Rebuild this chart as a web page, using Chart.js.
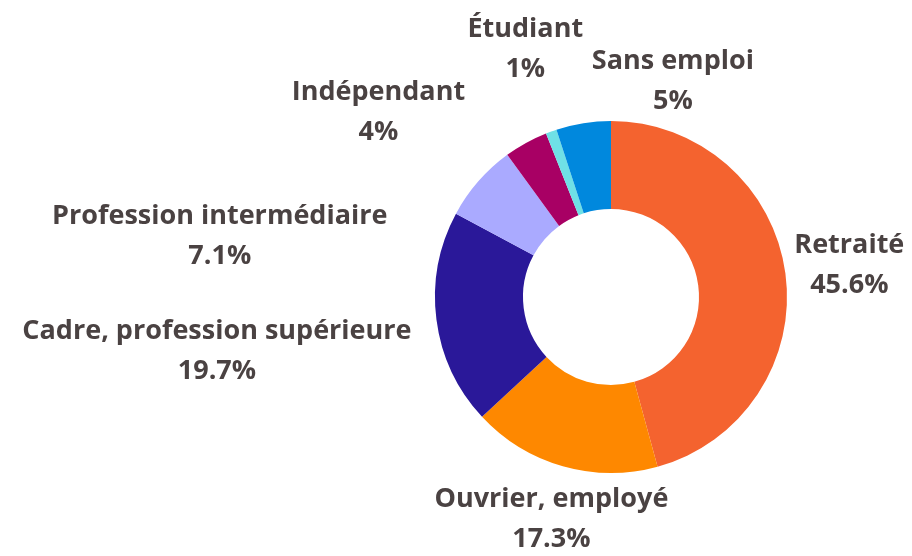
<!DOCTYPE html>
<html>
<head>
<meta charset="utf-8">
<script src="https://cdn.jsdelivr.net/npm/chart.js@4.4.1/dist/chart.umd.min.js"></script>
<style>
  html, body { margin: 0; padding: 0; background: #fff; }
  #wrap { width: 912px; height: 556px; position: relative; }
</style>
</head>
<body>
<div id="wrap"><canvas id="pieChart"></canvas></div>
<script>
const categories = ['Retraité', 'Ouvrier, employé', 'Cadre, profession supérieure', 'Profession intermédiaire', 'Indépendant', 'Étudiant', 'Sans emploi'];
const shares = [45.6, 17.3, 19.7, 7.1, 4, 1, 5];
const colors = ['#f4632f', '#fe8800', '#2a1899', '#aaaaff', '#a80064', '#6fe0e6', '#0088dd'];

// label nudges (px) after the default outside placement, to keep them apart
const labelNudge = [[-1, 1], [2, 6], [-15, 6], [-208, 99], [-122, 16], [-9, -35], [97, 6]];

const labelFont = 'bold 27px "Open Sans"';
const lineGap = 40;

const outsideLabels = {
    id: 'outsideLabels',
    afterDatasetsDraw(chart){
        const ctx = chart.ctx;
        const meta = chart.getDatasetMeta(0);
        ctx.save();
        ctx.font = labelFont;
        ctx.fillStyle = '#4a4242';
        ctx.textAlign = 'center';
        ctx.textBaseline = 'middle';
        meta.data.forEach(function(arc, i){
            const p = arc.getProps(['x', 'y', 'startAngle', 'endAngle', 'outerRadius'], true);
            const mid = (p.startAngle + p.endAngle) / 2;
            const dx = Math.cos(mid), dy = Math.sin(mid);
            const r = p.outerRadius + 10;
            const ax = p.x + dx * r, ay = p.y + dy * r;
            const lines = [categories[i], shares[i] + '%'];
            const w = Math.max.apply(null, lines.map(function(t){ return ctx.measureText(t).width; }));
            const h = lineGap * 2 - 5;
            const t = Math.min((w / 2) / Math.max(Math.abs(dx), 1e-6), (h / 2) / Math.max(Math.abs(dy), 1e-6));
            const cx = ax + dx * t + labelNudge[i][0];
            const cy = ay + dy * t + labelNudge[i][1];
            ctx.fillText(lines[0], cx, cy - lineGap / 2);
            ctx.fillText(lines[1], cx, cy + lineGap / 2);
        });
        ctx.restore();
    }
};

new Chart(document.getElementById('pieChart'), {
    type: 'doughnut',
    data: {
        labels: categories,
        datasets: [{
            data: shares,
            backgroundColor: colors,
            borderWidth: 0
        }]
    },
    options: {
        responsive: true,
        maintainAspectRatio: false,
        animation: false,
        cutout: '50%',
        layout: { padding: { left: 400, right: 90, top: 121, bottom: 83 } },
        plugins: {
            legend: { display: false },
            tooltip: { enabled: false }
        }
    },
    plugins: [outsideLabels]
});
</script>
</body>
</html>
